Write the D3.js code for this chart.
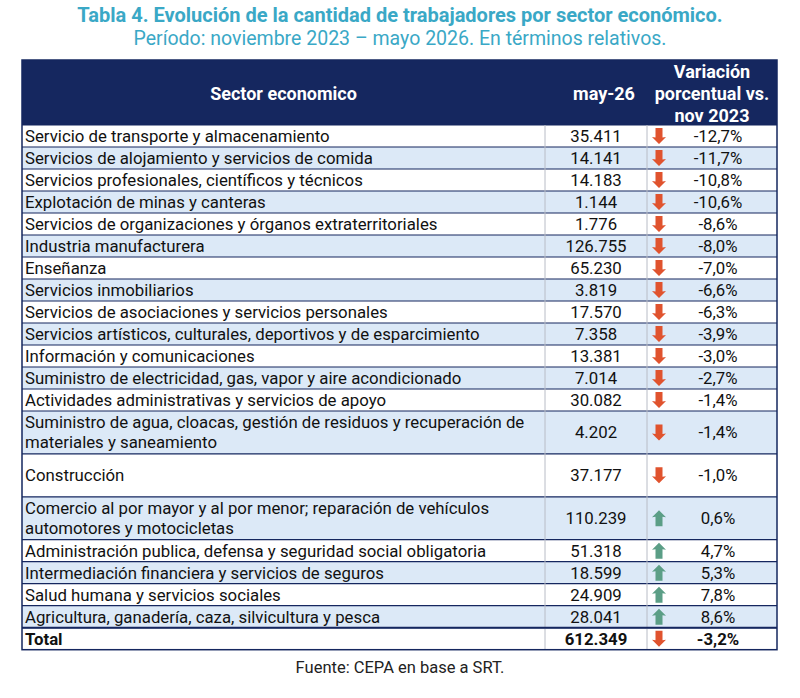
<!DOCTYPE html>
<html><head><meta charset="utf-8">
<script src="https://cdn.jsdelivr.net/npm/d3@7"></script>
<style>body{margin:0;background:#fff;font-family:Roboto,"Noto Sans",sans-serif}</style>
</head><body><div id="chart"></div>
<script>
const sectors = ["Servicio de transporte y almacenamiento","Servicios de alojamiento y servicios de comida","Servicios profesionales, científicos y técnicos","Explotación de minas y canteras","Servicios de organizaciones y órganos extraterritoriales","Industria manufacturera","Enseñanza","Servicios inmobiliarios","Servicios de asociaciones y servicios personales","Servicios artísticos, culturales, deportivos y de esparcimiento","Información y comunicaciones","Suministro de electricidad, gas, vapor y aire acondicionado","Actividades administrativas y servicios de apoyo","Suministro de agua, cloacas, gestión de residuos y recuperación de|materiales y saneamiento","Construcción","Comercio al por mayor y al por menor; reparación de vehículos|automotores y motocicletas","Administración publica, defensa y seguridad social obligatoria","Intermediación financiera y servicios de seguros","Salud humana y servicios sociales","Agricultura, ganadería, caza, silvicultura y pesca","Total"];
const workers = ["35.411","14.141","14.183","1.144","1.776","126.755","65.230","3.819","17.570","7.358","13.381","7.014","30.082","4.202","37.177","110.239","51.318","18.599","24.909","28.041","612.349"];
const variation = [-12.7,-11.7,-10.8,-10.6,-8.6,-8.0,-7.0,-6.6,-6.3,-3.9,-3.0,-2.7,-1.4,-1.4,-1.0,0.6,4.7,5.3,7.8,8.6,-3.2];
const rowUnits = [1,1,1,1,1,1,1,1,1,1,1,1,1,1.95,1.95,1.95,1,1,1,1,1];

const W = 800, H = 698, x0 = 22, x1 = 545, x2 = 647, x3 = 777, tableTop = 60, headH = 65, unit = 22;
const navy = "#15275f";
const svg = d3.select("#chart").append("svg").attr("width", W).attr("height", H);

svg.append("text").attr("x", W/2).attr("y", 22).attr("text-anchor","middle")
  .attr("fill","#3aa8c6").attr("font-size",20).attr("font-weight","bold").text("Tabla 4. Evolución de la cantidad de trabajadores por sector económico.");
svg.append("text").attr("x", W/2).attr("y", 45).attr("text-anchor","middle")
  .attr("fill","#3aa8c6").attr("font-size",19.5).text("Período: noviembre 2023 – mayo 2026. En términos relativos.");

// header
svg.append("rect").attr("x",x0).attr("y",tableTop).attr("width",x3-x0).attr("height",headH).attr("fill",navy);
const hs = {fill:"#fff","font-size":18,"font-weight":"bold","font-family":"Liberation Sans Narrow, Roboto, sans-serif"};
function ht(x,y,t){const e=svg.append("text").attr("x",x).attr("y",y).attr("text-anchor","middle").text(t);Object.entries(hs).forEach(([k,v])=>e.attr(k,v));}
ht((x0+x1)/2, tableTop+40, "Sector economico");
ht((x1+x2)/2+8, tableTop+40, "may-26");
ht((x2+x3)/2, tableTop+18, "Variación");
ht((x2+x3)/2, tableTop+40, "porcentual vs.");
ht((x2+x3)/2, tableTop+62, "nov 2023");

const ys = [];
let acc = tableTop + headH;
rowUnits.forEach(u => { ys.push(acc); acc += u*unit; });
const yEnd = acc;
const n = sectors.length;

const g = svg.append("g").selectAll("g").data(d3.range(n)).join("g")
  .attr("transform", i => `translate(0,${ys[i]})`);
g.append("rect").attr("x",x0).attr("width",x3-x0).attr("height",i=>rowUnits[i]*unit)
  .attr("fill", i => i%2===1 ? "#dce9f7" : "#fff");
g.append("line").attr("x1",x0).attr("x2",x3).attr("y1",0).attr("y2",0).attr("stroke",navy).attr("stroke-width",1.2);

const fs = 16.8;
const pct = v => v.toFixed(1).replace(".",",") + "%";
g.each(function(i){
  const gg = d3.select(this), h = rowUnits[i]*unit, bold = i===n-1;
  const lines = sectors[i].split("|");
  const t = gg.append("text").attr("x",x0+3).attr("font-size",fs).attr("fill","#111").attr("font-weight",bold?"bold":null);
  lines.forEach((l,k)=>t.append("tspan").attr("x",x0+3).attr("y", h/2 + 6 + (k-(lines.length-1)/2)*20).text(l));
  gg.append("text").attr("x",(x1+x2)/2).attr("y",h/2+6).attr("text-anchor","middle").attr("font-size",fs)
    .attr("fill","#111").attr("font-weight",bold?"bold":null).text(workers[i]);
  gg.append("text").attr("x",718).attr("y",h/2+6).attr("text-anchor","middle").attr("font-size",fs)
    .attr("fill","#111").attr("font-weight",bold?"bold":null).text(pct(variation[i]));
  const up = variation[i] > 0, c = up ? "#5b9e86" : "#e0532e";
  const ax = 659, cy = h/2;
  const p = up
    ? `M${ax},${cy-8} L${ax+7},${cy-1} L${ax+3.5},${cy-1.5} L${ax+3.5},${cy+8} L${ax-3.5},${cy+8} L${ax-3.5},${cy-1.5} L${ax-7},${cy-1} Z`
    : `M${ax},${cy+8} L${ax+7},${cy+1} L${ax+3.5},${cy+1.5} L${ax+3.5},${cy-8} L${ax-3.5},${cy-8} L${ax-3.5},${cy+1.5} L${ax-7},${cy+1} Z`;
  gg.append("path").attr("d",p).attr("fill",c);
});

[x1,x2].forEach(x=>svg.append("line").attr("x1",x).attr("x2",x).attr("y1",tableTop+headH).attr("y2",yEnd).attr("stroke","#b8bcc6"));
svg.append("rect").attr("x",x0).attr("y",tableTop).attr("width",x3-x0).attr("height",yEnd-tableTop).attr("fill","none").attr("stroke",navy).attr("stroke-width",1.5);
svg.append("line").attr("x1",x0).attr("x2",x3).attr("y1",ys[n-1]).attr("y2",ys[n-1]).attr("stroke",navy).attr("stroke-width",2);

svg.append("text").attr("x",W/2).attr("y",673).attr("text-anchor","middle").attr("font-size",16.5).attr("fill","#222").text("Fuente: CEPA en base a SRT.");
</script></body></html>
